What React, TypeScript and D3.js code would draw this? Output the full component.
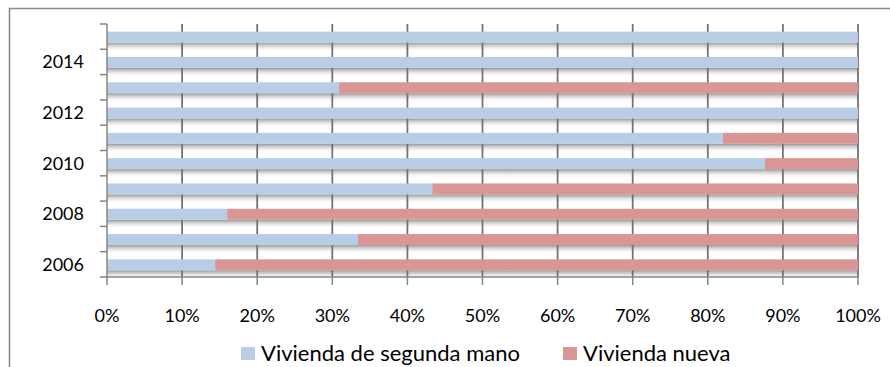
import { useEffect, useRef } from 'react';
import * as d3 from 'd3';

// años de abajo a arriba
const years = ['2006', '2007', '2008', '2009', '2010', '2011', '2012', '2013', '2014', '2015'];
// % vivienda de segunda mano
const segundaMano = [0.144, 0.334, 0.16, 0.433, 0.876, 0.82, 1, 0.309, 1, 1];
const yearLabels = ['2006', '2008', '2010', '2012', '2014'];
const xTicks = [0, 0.1, 0.2, 0.3, 0.4, 0.5, 0.6, 0.7, 0.8, 0.9, 1];
const seriesNames = ['Vivienda de segunda mano', 'Vivienda nueva'];
const seriesColors = ['#b9cde5', '#d99694'];

const W = 890;
const H = 367;

export default function App() {
  const svgRef = useRef<SVGSVGElement>(null);

  useEffect(() => {
    if (!svgRef.current) return;
    const svg = d3.select(svgRef.current);
    svg.selectAll('*').remove();

    const font = 'Lato, Calibri, sans-serif';
    const x = d3.scaleLinear().domain([0, 1]).range([107, 858]);
    const y = d3.scaleBand<string>().domain([...years].reverse()).range([24, 277]);
    const barH = 11;

    const data = years.map((yr, i) => ({ yr, a: segundaMano[i], b: 1 - segundaMano[i] }));

    // marco
    svg.append('path')
      .attr('d', `M9.5,${H} V8.5 H${W}`)
      .attr('fill', 'none')
      .attr('stroke', '#8a8a8a')
      .attr('stroke-width', 1.6);

    const defs = svg.append('defs');
    const grad = defs.append('linearGradient').attr('id', 'shadow').attr('x1', 0).attr('x2', 0).attr('y1', 0).attr('y2', 1);
    grad.append('stop').attr('offset', '0%').attr('stop-color', '#8a8a8a').attr('stop-opacity', 0.9);
    grad.append('stop').attr('offset', '100%').attr('stop-color', '#ffffff').attr('stop-opacity', 0);

    const gShadow = svg.append('g');
    data.forEach(d => {
      const y0 = (y(d.yr) ?? 0) + (y.bandwidth() - barH) / 2 + 0.5;
      gShadow.append('rect')
        .attr('x', x(0))
        .attr('y', y0 + barH)
        .attr('width', x(1) - x(0))
        .attr('height', 9)
        .attr('fill', 'url(#shadow)');
    });

    // rejilla
    svg.append('g')
      .selectAll('line')
      .data(xTicks.slice(1))
      .enter()
      .append('line')
      .attr('x1', d => x(d))
      .attr('x2', d => x(d))
      .attr('y1', 24)
      .attr('y2', 277)
      .attr('stroke', '#737373')
      .attr('stroke-width', 1.8);

    // barras
    const gBars = svg.append('g');
    data.forEach(d => {
      const y0 = (y(d.yr) ?? 0) + (y.bandwidth() - barH) / 2 + 0.5;
      gBars.append('rect')
        .attr('x', x(0))
        .attr('y', y0)
        .attr('width', x(d.a) - x(0))
        .attr('height', barH)
        .attr('fill', seriesColors[0]);
      if (d.b > 0) {
        gBars.append('rect')
          .attr('x', x(d.a))
          .attr('y', y0)
          .attr('width', x(1) - x(d.a))
          .attr('height', barH)
          .attr('fill', seriesColors[1]);
      }
    });

    // eje Y
    const axisColor = '#868686';
    svg.append('line')
      .attr('x1', x(0)).attr('x2', x(0)).attr('y1', 24).attr('y2', 278)
      .attr('stroke', axisColor).attr('stroke-width', 1.5);
    const bounds = [...y.domain().map(d => y(d) ?? 0), 277];
    svg.append('g')
      .selectAll('line')
      .data(bounds)
      .enter()
      .append('line')
      .attr('x1', 100).attr('x2', x(0))
      .attr('y1', d => d).attr('y2', d => d)
      .attr('stroke', axisColor).attr('stroke-width', 1.5);
    svg.append('g')
      .selectAll('text')
      .data(yearLabels)
      .enter()
      .append('text')
      .attr('x', 84)
      .attr('y', d => (y(d) ?? 0) + y.bandwidth() / 2)
      .attr('dy', '0.36em')
      .attr('text-anchor', 'end')
      .style('font-family', font)
      .style('font-size', '18px')
      .style('fill', '#000')
      .text(d => d);

    // eje X
    svg.append('line')
      .attr('x1', x(0) - 0.75).attr('x2', x(1) + 0.75).attr('y1', 277).attr('y2', 277)
      .attr('stroke', axisColor).attr('stroke-width', 1.5);
    svg.append('g')
      .selectAll('line')
      .data(xTicks)
      .enter()
      .append('line')
      .attr('x1', d => x(d)).attr('x2', d => x(d))
      .attr('y1', 277).attr('y2', 285)
      .attr('stroke', axisColor).attr('stroke-width', 1.5);
    svg.append('g')
      .selectAll('text')
      .data(xTicks)
      .enter()
      .append('text')
      .attr('x', d => x(d))
      .attr('y', 322)
      .attr('text-anchor', 'middle')
      .style('font-family', font)
      .style('font-size', '18px')
      .style('fill', '#000')
      .text(d => d3.format('.0%')(d));

    // leyenda
    const legendX = [241, 563];
    seriesNames.forEach((name, i) => {
      svg.append('rect')
        .attr('x', legendX[i]).attr('y', 347)
        .attr('width', 14).attr('height', 13)
        .attr('fill', seriesColors[i]);
      svg.append('text')
        .attr('x', legendX[i] + 20)
        .attr('y', 361)
        .style('font-family', font)
        .style('font-size', '22px')
        .style('fill', '#000')
        .text(name);
    });
  }, []);

  return (
    <div style={{ position: 'fixed', left: 0, top: 0 }}>
      <svg ref={svgRef} width={W} height={H} style={{ display: 'block', background: '#fff' }} />
    </div>
  );
}
